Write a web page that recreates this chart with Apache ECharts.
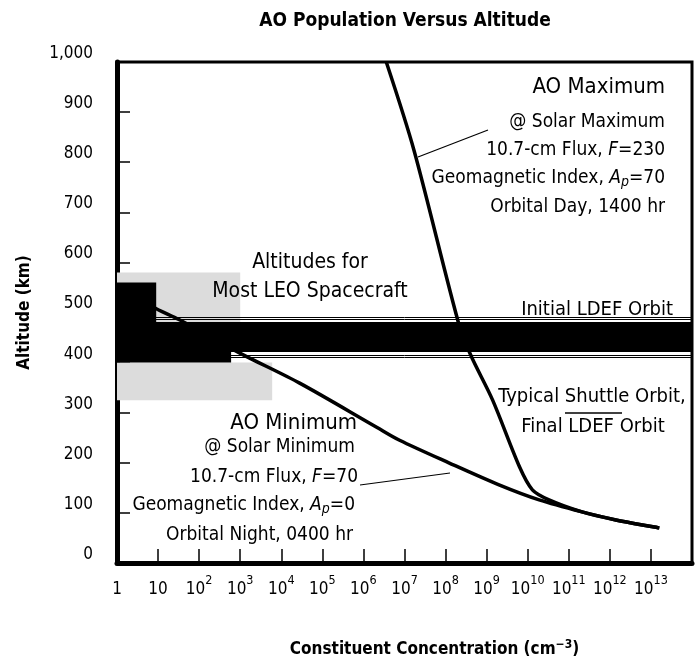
<!DOCTYPE html>
<html>
<head>
<meta charset="utf-8">
<script src="https://cdn.jsdelivr.net/npm/echarts@6/dist/echarts.min.js"></script>
<style>html,body{margin:0;padding:0;background:#fff}#c{width:695px;height:666px}</style>
</head>
<body>
<div id="c"></div>
<script>
// ---- data ----
const yTicks = [0, 100, 200, 300, 400, 500, 600, 700, 800, 900, 1000];
// AO Maximum curve [concentration, altitude km]
const aoMaxConc = [3.6e6, 1.7e7, 2.2e8, 4.3e8, 1.4e9, 6.3e9, 1.3e10, 3.3e10, 2.1e11, 1.4e12, 1.6e13];
const aoMaxAlt  = [1000,  824,    471,   411,   325,   192,   146,    126,    102,    86,     70];
// AO Minimum curve
const aoMinConc = [1, 7.5, 34, 980, 2.8e4, 2.1e6, 7.6e6, 1.2e8, 2.0e9, 1.9e10, 2.1e11, 1.4e12, 1.6e13];
const aoMinAlt  = [555, 511, 485, 419, 359, 271, 245, 200, 156, 126, 102, 86, 70];
// Bands (altitude ranges, km) and concentration extents
const ldefBand = [421, 481];
const ldefEdgeLines = [411, 415, 486, 491];
const leoBlockHigh = [481, 560];
const leoBlockHighConc = [1, 9];
const leoBlockLow = [400, 421];
const leoBlockLowConc = [1, 600];
const leoShadeUpper = [481, 580];
const leoShadeUpperConc = [1, 1000];
const leoShadeLower = [325, 400];
const leoShadeLowerConc = [1, 6000];

const FONT = "'DejaVu Sans Condensed','Liberation Sans Narrow',sans-serif";

const chart = echarts.init(document.getElementById('c'));
const zip = (a, b) => a.map((v, i) => [v, b[i]]);

const option = {
  backgroundColor: '#fff',
  animation: false,
  title: {
    text: 'AO Population Versus Altitude',
    left: 400, top: 7, textAlign: 'center',
    textStyle: {fontFamily: FONT, fontWeight: 'bold', fontSize: 19, color: '#000'}
  },
  grid: {left: 117, right: 2, top: 62, bottom: 103, show: true, borderColor: '#000', borderWidth: 3, backgroundColor: 'transparent'},
  xAxis: {
    type: 'log', logBase: 10, min: 1, max: 1e14, interval: 1, splitNumber: 14,
    name: 'Constituent Concentration (cm{sup|−3})',
    nameLocation: 'middle', nameGap: 76,
    nameTextStyle: {fontFamily: FONT, fontWeight: 'bold', fontSize: 17, color: '#000', padding: [0,0,0,60],
      rich: {sup: {fontFamily: FONT, fontWeight: 'bold', fontSize: 12, verticalAlign: 'top', padding: [0,0,10,0]}}},
    axisLine: {show: true, lineStyle: {color: '#000', width: 5}},
    axisTick: {show: true, inside: true, length: 14, interval: 0, lineStyle: {color: '#000', width: 1.5}},
    splitLine: {show: false},
    minorTick: {show: false},
    axisLabel: {
      margin: 11, color: '#000', fontFamily: FONT, fontSize: 17, interval: 0, lineHeight: 24,
      formatter: function (v) {
        const e = Math.round(Math.log10(v));
        if (e === 0) return '{b|1}';
        if (e === 1) return '{b|10}';
        if (e > 13) return '';
        return '{b|10}{s|' + e + '}';
      },
      rich: {
        b: {fontFamily: FONT, fontSize: 17, color: '#000', lineHeight: 24, verticalAlign: 'bottom'},
        s: {fontFamily: FONT, fontSize: 12.5, color: '#000', lineHeight: 24, verticalAlign: 'top'}
      }
    }
  },
  yAxis: {
    type: 'value', min: 0, max: 1000, interval: 100,
    name: 'Altitude (km)', nameLocation: 'middle', nameGap: 84, nameRotate: 90,
    nameTextStyle: {fontFamily: FONT, fontWeight: 'bold', fontSize: 17, color: '#000'},
    axisLine: {show: true, lineStyle: {color: '#000', width: 5}},
    axisTick: {show: true, inside: true, length: 13, lineStyle: {color: '#000', width: 1.5}},
    splitLine: {show: false},
    axisLabel: {
      margin: 24, color: '#000', fontFamily: FONT, fontSize: 17, verticalAlign: 'bottom', lineHeight: 17,
      formatter: v => v === 1000 ? '1,000' : String(v)
    }
  },
  series: [
    {
      name: 'bands', type: 'line', data: [], silent: true,
      markArea: {
        silent: true,
        data: [
          [{coord: [leoShadeUpperConc[0], leoShadeUpper[0]], itemStyle: {color: '#dcdcdc'}}, {coord: [leoShadeUpperConc[1], leoShadeUpper[1]]}],
          [{coord: [leoShadeLowerConc[0], leoShadeLower[0]], itemStyle: {color: '#dcdcdc'}}, {coord: [leoShadeLowerConc[1], leoShadeLower[1]]}],
          [{coord: [leoBlockHighConc[0], leoBlockHigh[0]], itemStyle: {color: '#000'}}, {coord: [leoBlockHighConc[1], leoBlockHigh[1]]}],
          [{coord: [leoBlockLowConc[0], leoBlockLow[0]], itemStyle: {color: '#000'}}, {coord: [leoBlockLowConc[1], leoBlockLow[1]]}],
          [{coord: [1, ldefBand[0]], itemStyle: {color: '#000'}}, {coord: [1e14, ldefBand[1]]}]
        ]
      },
      markLine: {
        silent: true, symbol: 'none', label: {show: false},
        lineStyle: {color: '#000', width: 1, type: 'solid'},
        data: ldefEdgeLines.map(a => ({yAxis: a}))
      }
    },
    {
      name: 'AO Maximum', type: 'line', smooth: 0.3, showSymbol: false,
      lineStyle: {color: '#000', width: 3.5}, data: zip(aoMaxConc, aoMaxAlt)
    },
    {
      name: 'AO Minimum', type: 'line', smooth: 0.3, showSymbol: false,
      lineStyle: {color: '#000', width: 3.5}, data: zip(aoMinConc, aoMinAlt)
    }
  ],
  graphic: []
};
chart.setOption(option);

const t = (x, y, text, size, align) => ({
  type: 'text', x: x, y: y, silent: true, z: 100,
  style: {text: text, fill: '#000', font: size + 'px ' + FONT, align: align || 'right', verticalAlign: 'middle',
    rich: {
      i: {fontFamily: FONT, fontSize: size, fontStyle: 'italic', fill: '#000'},
      sub: {fontFamily: FONT, fontSize: size - 5, fontStyle: 'italic', fill: '#000', verticalAlign: 'bottom', padding: [8,0,0,0]}
    }}
});
const ln = (x1, y1, x2, y2, w) => ({type: 'line', silent: true, z: 100, shape: {x1, y1, x2, y2}, style: {stroke: '#000', lineWidth: w || 1.2}});

chart.setOption({graphic: [
  t(665, 87, 'AO Maximum', 22),
  t(665, 122, '@ Solar Maximum', 19),
  t(665, 150, '10.7-cm Flux, {i|F}=230', 19),
  t(665, 178, 'Geomagnetic Index, {i|A}{sub|p}=70', 19),
  t(665, 207, 'Orbital Day, 1400 hr', 19),
  ln(418, 157, 488, 130),
  t(310, 263, 'Altitudes for', 21, 'center'),
  t(310, 292, 'Most LEO Spacecraft', 21, 'center'),
  t(673, 310, 'Initial LDEF Orbit', 20),
  t(592, 397, 'Typical Shuttle Orbit,', 20, 'center'),
  t(593, 427, 'Final LDEF Orbit', 20, 'center'),
  ln(565, 413, 622, 413, 1.5),
  t(357, 423, 'AO Minimum', 22),
  t(355, 447, '@ Solar Minimum', 19),
  t(358, 477, '10.7-cm Flux, {i|F}=70', 19),
  ln(360, 485, 450, 473),
  t(355, 505, 'Geomagnetic Index, {i|A}{sub|p}=0', 19),
  t(353, 535, 'Orbital Night, 0400 hr', 19)
]});
</script>
</body>
</html>
